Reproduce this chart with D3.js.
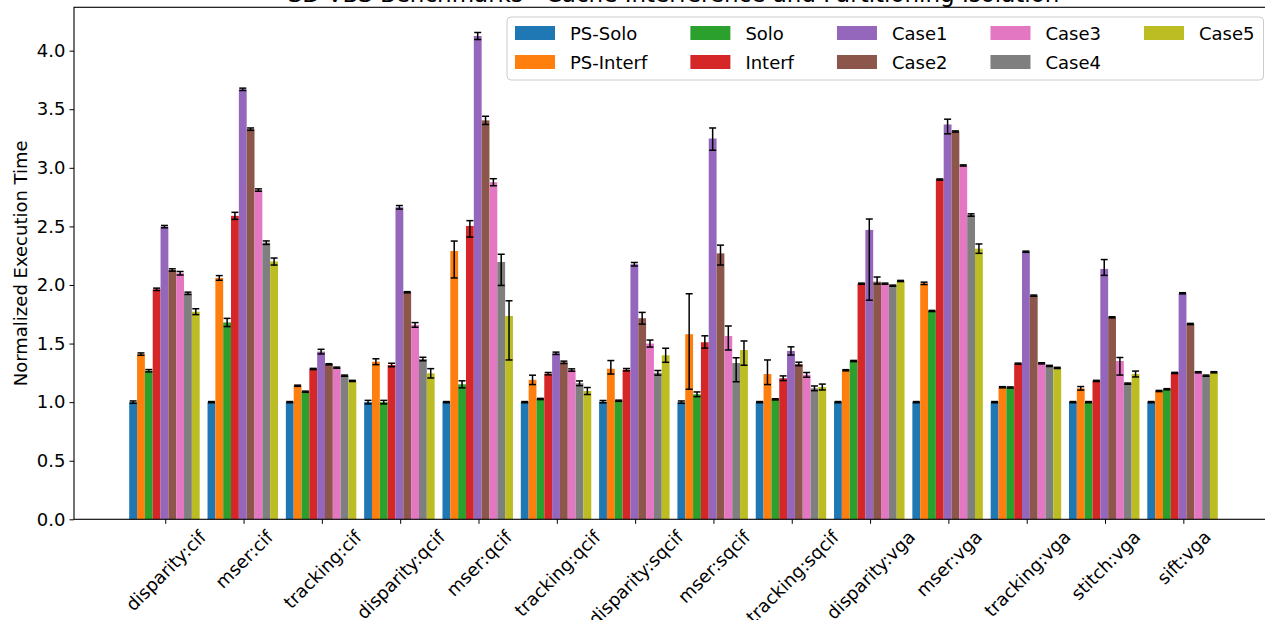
<!DOCTYPE html>
<html>
<head>
<meta charset="utf-8">
<script src="https://cdn.jsdelivr.net/npm/d3@7"></script>
<style>
  html, body { margin: 0; padding: 0; background: #fff; }
  svg { display: block; font-family: "DejaVu Sans", sans-serif; }
</style>
</head>
<body>
<svg id="chart" width="1265" height="620"></svg>
<script>
// ---------------- DATA ----------------
const categories = ["disparity:cif", "mser:cif", "tracking:cif", "disparity:qcif", "mser:qcif",
  "tracking:qcif", "disparity:sqcif", "mser:sqcif", "tracking:sqcif", "disparity:vga",
  "mser:vga", "tracking:vga", "stitch:vga", "sift:vga"];

const seriesNames = ["PS-Solo", "PS-Interf", "Solo", "Interf", "Case1", "Case2", "Case3", "Case4", "Case5"];
const seriesColors = ["#1f77b4", "#ff7f0e", "#2ca02c", "#d62728", "#9467bd", "#8c564b", "#e377c2", "#7f7f7f", "#bcbd22"];

const psSolo   = [1.0, 1.0, 1.0, 1.0, 1.0, 1.0, 1.004, 1.0, 1.0, 1.0, 1.0, 1.0, 1.0, 1.0];
const psInterf = [1.41, 2.06, 1.14, 1.345, 2.29, 1.19, 1.285, 1.58, 1.24, 1.272, 2.014, 1.127, 1.118, 1.095];
const solo     = [1.268, 1.68, 1.089, 1.0, 1.152, 1.027, 1.012, 1.067, 1.024, 1.351, 1.778, 1.125, 1.0, 1.11];
const interf   = [1.963, 2.59, 1.283, 1.317, 2.504, 1.243, 1.277, 1.511, 1.204, 2.011, 2.90, 1.328, 1.181, 1.249];
const case1    = [2.498, 3.67, 1.431, 2.663, 4.125, 1.417, 2.177, 3.25, 1.437, 2.47, 3.37, 2.284, 2.137, 1.929];
const case2    = [2.128, 3.33, 1.323, 1.938, 3.405, 1.34, 1.716, 2.27, 1.326, 2.028, 3.31, 1.909, 1.724, 1.667];
const case3    = [2.10, 2.81, 1.294, 1.659, 2.877, 1.274, 1.50, 1.565, 1.233, 2.011, 3.02, 1.331, 1.351, 1.255];
const case4    = [1.929, 2.361, 1.226, 1.368, 2.196, 1.161, 1.25, 1.334, 1.118, 1.994, 2.597, 1.309, 1.158, 1.226];
const case5    = [1.772, 2.20, 1.181, 1.246, 1.735, 1.095, 1.40, 1.445, 1.129, 2.034, 2.31, 1.292, 1.24, 1.255];

// error bar extents below (lo) and above (hi) each value
const psSoloErrLo   = [0.01, 0.005, 0.005, 0.015, 0.005, 0.005, 0.01, 0.01, 0.005, 0.005, 0.005, 0.005, 0.005, 0.005];
const psSoloErrHi   = [0.01, 0.005, 0.005, 0.015, 0.005, 0.005, 0.01, 0.01, 0.005, 0.005, 0.005, 0.005, 0.005, 0.005];
const psInterfErrLo = [0.01, 0.02, 0.005, 0.025, 0.23, 0.04, 0.045, 0.47, 0.09, 0.005, 0.01, 0.005, 0.015, 0.005];
const psInterfErrHi = [0.01, 0.02, 0.005, 0.025, 0.085, 0.04, 0.07, 0.345, 0.12, 0.005, 0.01, 0.005, 0.015, 0.005];
const soloErrLo     = [0.01, 0.035, 0.005, 0.015, 0.03, 0.005, 0.005, 0.02, 0.005, 0.005, 0.005, 0.005, 0.005, 0.005];
const soloErrHi     = [0.01, 0.035, 0.005, 0.015, 0.03, 0.005, 0.005, 0.02, 0.005, 0.005, 0.005, 0.005, 0.005, 0.005];
const interfErrLo   = [0.01, 0.03, 0.005, 0.015, 0.095, 0.01, 0.01, 0.05, 0.02, 0.005, 0.005, 0.005, 0.005, 0.005];
const interfErrHi   = [0.01, 0.03, 0.005, 0.015, 0.045, 0.01, 0.01, 0.055, 0.02, 0.005, 0.005, 0.005, 0.005, 0.005];
const case1ErrLo    = [0.01, 0.01, 0.02, 0.015, 0.03, 0.01, 0.015, 0.1, 0.035, 0.6, 0.08, 0.005, 0.055, 0.005];
const case1ErrHi    = [0.01, 0.01, 0.02, 0.015, 0.03, 0.01, 0.015, 0.09, 0.035, 0.093, 0.045, 0.005, 0.08, 0.005];
const case2ErrLo    = [0.01, 0.01, 0.005, 0.005, 0.035, 0.01, 0.05, 0.1, 0.015, 0.02, 0.005, 0.005, 0.005, 0.005];
const case2ErrHi    = [0.01, 0.01, 0.005, 0.005, 0.035, 0.01, 0.05, 0.07, 0.015, 0.04, 0.005, 0.005, 0.005, 0.005];
const case3ErrLo    = [0.015, 0.01, 0.005, 0.02, 0.03, 0.01, 0.03, 0.12, 0.02, 0.005, 0.005, 0.005, 0.12, 0.005];
const case3ErrHi    = [0.015, 0.01, 0.005, 0.02, 0.03, 0.01, 0.03, 0.085, 0.02, 0.005, 0.005, 0.005, 0.03, 0.005];
const case4ErrLo    = [0.01, 0.015, 0.005, 0.015, 0.2, 0.02, 0.02, 0.16, 0.02, 0.005, 0.01, 0.005, 0.005, 0.005];
const case4ErrHi    = [0.01, 0.015, 0.005, 0.015, 0.066, 0.02, 0.02, 0.045, 0.02, 0.005, 0.01, 0.005, 0.005, 0.005];
const case5ErrLo    = [0.025, 0.03, 0.005, 0.04, 0.375, 0.03, 0.06, 0.13, 0.025, 0.005, 0.04, 0.005, 0.025, 0.005];
const case5ErrHi    = [0.025, 0.03, 0.005, 0.04, 0.13, 0.03, 0.06, 0.077, 0.025, 0.005, 0.04, 0.005, 0.025, 0.005];

const yTicks = [0.0, 0.5, 1.0, 1.5, 2.0, 2.5, 3.0, 3.5, 4.0];
const titleText = "SD-VBS Benchmarks - Cache Interference and Partitioning Isolation";
const yLabelText = "Normalized Execution Time";

const seriesValues = [psSolo, psInterf, solo, interf, case1, case2, case3, case4, case5];
const seriesErrLo = [psSoloErrLo, psInterfErrLo, soloErrLo, interfErrLo, case1ErrLo, case2ErrLo, case3ErrLo, case4ErrLo, case5ErrLo];
const seriesErrHi = [psSoloErrHi, psInterfErrHi, soloErrHi, interfErrHi, case1ErrHi, case2ErrHi, case3ErrHi, case4ErrHi, case5ErrHi];

// ---------------- LAYOUT ----------------
(function draw() {
const FS = 18;
const svg = d3.select("#chart");
const pL = 74, pR = 1273, pT = 7.3, pB = 519.3;
const barW = 0.1;

const x = d3.scaleLinear().domain([-1.165, 14.145]).range([pL, pR]);
const y = d3.scaleLinear().domain([0, 4.37]).range([pB, pT]);

// bars
const barsG = svg.append("g");
seriesNames.forEach((name, k) => {
  const off = (k - 4) * barW - 0.01;
  barsG.append("g").selectAll("rect")
    .data(seriesValues[k])
    .join("rect")
    .attr("x", (d, i) => x(i + off - barW / 2))
    .attr("width", (d, i) => x(i + off + barW / 2) - x(i + off - barW / 2))
    .attr("y", d => y(d))
    .attr("height", d => y(0) - y(d))
    .attr("fill", seriesColors[k]);
});

// error bars
const errG = svg.append("g").attr("stroke", "#000").attr("stroke-width", 1.5);
seriesNames.forEach((name, k) => {
  const off = (k - 4) * barW - 0.01;
  seriesValues[k].forEach((v, i) => {
    const cx = x(i + off);
    const yHi = y(v + seriesErrHi[k][i]);
    const yLo = y(v - seriesErrLo[k][i]);
    const cap = 3.5;
    errG.append("line").attr("x1", cx).attr("x2", cx).attr("y1", yHi).attr("y2", yLo);
    errG.append("line").attr("x1", cx - cap).attr("x2", cx + cap).attr("y1", yHi).attr("y2", yHi);
    errG.append("line").attr("x1", cx - cap).attr("x2", cx + cap).attr("y1", yLo).attr("y2", yLo);
  });
});

// frame
svg.append("rect")
  .attr("x", pL).attr("y", pT)
  .attr("width", pR - pL).attr("height", pB - pT)
  .attr("fill", "none").attr("stroke", "#000").attr("stroke-width", 1.1);

// y axis
const yAxis = svg.append("g")
  .attr("transform", `translate(${pL},0)`)
  .call(d3.axisLeft(y).tickValues(yTicks).tickFormat(d3.format(".1f")).tickSize(4.5).tickPadding(4));
yAxis.select(".domain").remove();
yAxis.selectAll("text").attr("font-size", FS).attr("font-family", "DejaVu Sans").attr("fill", "#000");
yAxis.selectAll("line").attr("stroke", "#000").attr("stroke-width", 1);

// x axis
const xAxis = svg.append("g")
  .attr("transform", `translate(0,${pB})`)
  .call(d3.axisBottom(x).tickValues(d3.range(categories.length)).tickFormat(i => categories[i]).tickSize(4.5));
xAxis.select(".domain").remove();
xAxis.selectAll("line").attr("stroke", "#000").attr("stroke-width", 1);
xAxis.selectAll(".tick text").each(function(d) {
  const t = d3.select(this);
  t.attr("font-size", FS).attr("font-family", "DejaVu Sans").attr("fill", "#000")
   .attr("y", null).attr("dy", null)
   .attr("text-anchor", "middle").attr("dominant-baseline", "central");
  const L = this.getComputedTextLength();
  const hb = (L + FS * 1.0) * Math.SQRT1_2;
  const cy = 4.5 + 3.5 + hb / 2;
  t.attr("transform", `translate(0,${cy}) rotate(-45)`);
});

// y label
svg.append("text")
  .attr("transform", `translate(20,${(pT + pB) / 2}) rotate(-90)`)
  .attr("text-anchor", "middle").attr("dominant-baseline", "central")
  .attr("font-size", FS).text(yLabelText);

// title
svg.append("text")
  .attr("x", (pL + pR) / 2).attr("y", 1.5)
  .attr("text-anchor", "middle")
  .attr("font-size", 23).text(titleText);

// legend
const legG = svg.append("g");
const legBox = legG.append("rect");
const lx0 = 507, ly0 = 17;
const padL = 8, patchW = 40, patchH = 14, textPad = 15, colSpace = 43;
const rowY = [33, 62];
let cx = lx0 + padL;
const ncol = 5;
for (let c = 0; c < ncol; c++) {
  let maxW = 0;
  for (let r = 0; r < 2; r++) {
    const k = c * 2 + r;
    if (k >= seriesNames.length) continue;
    legG.append("rect")
      .attr("x", cx).attr("y", rowY[r] - patchH / 2)
      .attr("width", patchW).attr("height", patchH)
      .attr("fill", seriesColors[k]);
    const tx = legG.append("text")
      .attr("x", cx + patchW + textPad).attr("y", rowY[r])
      .attr("dominant-baseline", "central")
      .attr("font-size", FS).text(seriesNames[k]);
    maxW = Math.max(maxW, tx.node().getComputedTextLength());
  }
  cx += patchW + textPad + maxW + (c < ncol - 1 ? colSpace : 0);
}
legBox.attr("x", lx0).attr("y", ly0)
  .attr("width", cx + 9 - lx0).attr("height", 80 - ly0)
  .attr("rx", 4).attr("ry", 4)
  .attr("fill", "#fff").attr("fill-opacity", 0.8)
  .attr("stroke", "#cccccc").attr("stroke-width", 1);
})();
</script>
</body>
</html>
